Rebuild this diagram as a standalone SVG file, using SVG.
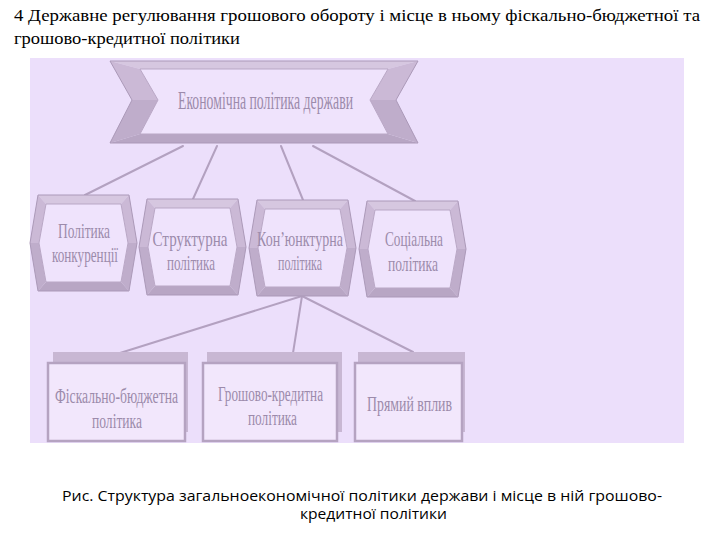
<svg xmlns="http://www.w3.org/2000/svg" xmlns:xlink="http://www.w3.org/1999/xlink" width="720" height="540" viewBox="0 0 720 540">
<style>
.hdr{font-family:"Liberation Serif","Times New Roman",serif;font-size:17px;fill:#000}
.cap{font-family:"Open Sans","Liberation Sans",Arial,sans-serif;font-size:14px;fill:#000}
.lbl{font-family:"Liberation Serif","Times New Roman",serif;font-size:22px;fill:#9c8bab;text-anchor:middle}
.sm{font-size:20px}
.big{font-size:26px}
.edge{fill:none;stroke:#b3a1c0;stroke-width:2;stroke-linecap:round}
.o{fill:none;stroke:#ab99b8;stroke-width:1}
.ft{fill:#d6c7e0}.fu{fill:#cbb9d6}.fl{fill:#bfadcb}.fb{fill:#b8a6c4}
.face{fill:#efe3fc;stroke:#b9a7c5;stroke-width:1}
.shadow{fill:#c8b7d3}
.rect{fill:#f2e7fc;stroke:#b5a3c1;stroke-width:2.5}
</style>
<defs>
<g id="hex">
<polygon class="ft" points="8,0 99,0 91,9 16,9"/>
<polygon class="fu" points="99,0 107,48 98,48 91,9"/>
<polygon class="fl" points="107,48 99,96 91,87 98,48"/>
<polygon class="fb" points="99,96 8,96 16,87 91,87"/>
<polygon class="fl" points="8,96 0,48 9,48 16,87"/>
<polygon class="fu" points="0,48 8,0 16,9 9,48"/>
<polygon class="o" points="0,48 8,0 99,0 107,48 99,96 8,96"/>
<polygon class="face" points="9,48 16,9 91,9 98,48 91,87 16,87"/>
</g>
</defs>
<rect x="0" y="0" width="720" height="540" fill="#ffffff"/>
<text class="hdr" x="14" y="21" textLength="686" lengthAdjust="spacingAndGlyphs">4 Державне регулювання грошового обороту і місце в ньому фіскально-бюджетної та</text>
<text class="hdr" x="14" y="44" textLength="226" lengthAdjust="spacingAndGlyphs">грошово-кредитної політики</text>
<rect x="30" y="58" width="654" height="385" fill="#ecdffb"/>
<g id="connectors">
<line class="edge" x1="183" y1="146" x2="85" y2="195"/>
<line class="edge" x1="217" y1="146" x2="193" y2="199"/>
<line class="edge" x1="281" y1="146" x2="303" y2="200"/>
<line class="edge" x1="313" y1="146" x2="415" y2="201"/>
<line class="edge" x1="302" y1="296" x2="120" y2="353"/>
<line class="edge" x1="302" y1="296" x2="293" y2="353"/>
<line class="edge" x1="302" y1="296" x2="413" y2="352"/>
</g>
<g id="n-econ">
<polygon class="ft" points="110,61 418,61 388,69 140,69"/>
<polygon class="fu" points="110,61 140,69 158,100 132,100"/>
<polygon class="fl" points="132,100 158,100 140,134 110,143"/>
<polygon class="fb" points="110,143 140,134 388,134 418,143"/>
<polygon class="fu" points="418,61 396,100 370,100 388,69"/>
<polygon class="fl" points="396,100 418,143 388,134 370,100"/>
<polygon class="o" points="110,61 418,61 396,100 418,143 110,143 132,100"/>
<polygon class="face" points="140,69 388,69 370,100 388,134 140,134 158,100"/>
<text class="lbl big" x="265.5" y="109" textLength="175" lengthAdjust="spacingAndGlyphs">Економічна політика держави</text>
</g>
<g id="n-competition">
<use xlink:href="#hex" transform="translate(30,195)"/>
<text class="lbl" x="84" y="238" textLength="52" lengthAdjust="spacingAndGlyphs">Політика</text>
<text class="lbl" x="85" y="262" textLength="66" lengthAdjust="spacingAndGlyphs">конкуренції</text>
</g>
<g id="n-structural">
<use xlink:href="#hex" transform="translate(139,199)"/>
<text class="lbl" x="190" y="246" textLength="75" lengthAdjust="spacingAndGlyphs">Структурна</text>
<text class="lbl" x="191" y="270" textLength="48" lengthAdjust="spacingAndGlyphs">політика</text>
</g>
<g id="n-conjuncture">
<use xlink:href="#hex" transform="translate(249,200)"/>
<text class="lbl" x="300" y="246" textLength="86" lengthAdjust="spacingAndGlyphs">Кон’юнктурна</text>
<text class="lbl" x="300" y="270" textLength="44" lengthAdjust="spacingAndGlyphs">політика</text>
</g>
<g id="n-social">
<use xlink:href="#hex" transform="translate(359,201)"/>
<text class="lbl" x="414" y="246" textLength="58" lengthAdjust="spacingAndGlyphs">Соціальна</text>
<text class="lbl" x="413" y="271" textLength="50" lengthAdjust="spacingAndGlyphs">політика</text>
</g>
<g id="n-fiscal">
<rect class="shadow" x="53" y="352" width="135" height="80"/>
<rect class="rect" x="48" y="363" width="137" height="78"/>
<text class="lbl sm" x="116.5" y="403" textLength="123" lengthAdjust="spacingAndGlyphs">Фіскально-бюджетна</text>
<text class="lbl sm" x="117" y="428" textLength="50" lengthAdjust="spacingAndGlyphs">політика</text>
</g>
<g id="n-monetary">
<rect class="shadow" x="207" y="352" width="135" height="80"/>
<rect class="rect" x="203" y="363" width="134" height="78"/>
<text class="lbl sm" x="270.5" y="401" textLength="105" lengthAdjust="spacingAndGlyphs">Грошово-кредитна</text>
<text class="lbl sm" x="272.5" y="425" textLength="49" lengthAdjust="spacingAndGlyphs">політика</text>
</g>
<g id="n-direct">
<rect class="shadow" x="358" y="352" width="107" height="80"/>
<rect class="rect" x="355" y="363" width="107" height="78"/>
<text class="lbl sm" x="409.5" y="411" textLength="85" lengthAdjust="spacingAndGlyphs">Прямий вплив</text>
</g>
<text class="cap" x="62" y="501" textLength="600" lengthAdjust="spacingAndGlyphs">Рис.  Структура загальноекономічної політики держави і місце в ній грошово-</text>
<text class="cap" x="300" y="519" textLength="147" lengthAdjust="spacingAndGlyphs">кредитної політики</text>
</svg>
